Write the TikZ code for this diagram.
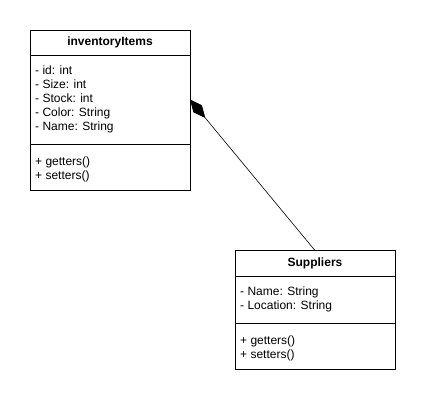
\documentclass[tikz,border=0pt]{standalone}
\usepackage{fontspec}
\setmainfont{Liberation Sans}
\usepackage{tikz}
\usetikzlibrary{arrows.meta, positioning}
\tikzstyle{classpart} = [draw=black, line width=0.8pt, minimum width=160pt, inner sep=0pt, outer sep=0pt]
\tikzstyle{members} = [anchor=north west, align=left, inner sep=0pt, font=\fontsize{12}{14}\selectfont]
\tikzstyle{composition} = [line width=0.6pt, -{Diamond[length=24pt, width=11pt]}]

\begin{document}
\begin{tikzpicture}[x=1pt, y=-1pt]
	\useasboundingbox (0, 0) rectangle (426, 404);

	\node (ItemsHead) [classpart, minimum height=25pt, font=\fontsize{12}{14}\selectfont\bfseries] at (110, 42.5) {inventoryItems};
	\node (ItemsAttr) [classpart, minimum height=89pt, below=0pt of ItemsHead] {};
	\node (ItemsOps) [classpart, minimum height=46pt, below=0pt of ItemsAttr] {};

	\node (ItemsAttrText) [members, below right=10.5pt and 5pt of ItemsAttr.north west] {- id: int\\- Size: int\\- Stock: int\\- Color: String\\- Name: String};
	\node (ItemsOpsText) [members, below right=12.5pt and 5pt of ItemsOps.north west] {+ getters()\\+ setters()};

	\node (SupHead) [classpart, minimum height=26pt, font=\fontsize{12}{14}\selectfont\bfseries] at (315, 263.5) {Suppliers};
	\node (SupAttr) [classpart, minimum height=47pt, below=0pt of SupHead] {};
	\node (SupOps) [classpart, minimum height=46pt, below=0pt of SupAttr] {};

	\node (SupAttrText) [members, below right=10pt and 5pt of SupAttr.north west] {- Name: String\\- Location: String};
	\node (SupOpsText) [members, below right=12.5pt and 5pt of SupOps.north west] {+ getters()\\+ setters()};

	\draw [composition] (SupHead.north) -- (ItemsAttr.east);

\end{tikzpicture}
\end{document}
